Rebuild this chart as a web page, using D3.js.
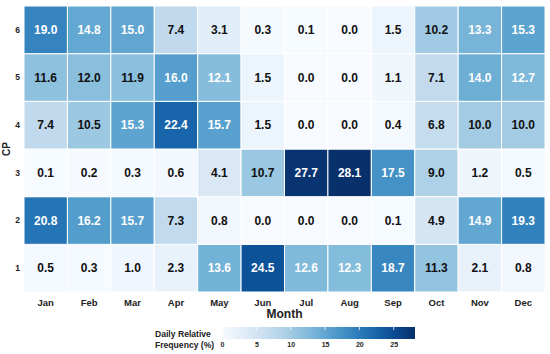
<!DOCTYPE html>
<html>
<head>
<meta charset="utf-8">
<script src="https://cdn.jsdelivr.net/npm/d3@7"></script>
<style>
  body { margin: 0; background: #fff; }
  text { font-family: "Liberation Sans", Arial, sans-serif; font-weight: bold; }
</style>
</head>
<body>
<svg width="550" height="354"></svg>
<script>
var months = ["Jan", "Feb", "Mar", "Apr", "May", "Jun", "Jul", "Aug", "Sep", "Oct", "Nov", "Dec"];
var cps = ["1", "2", "3", "4", "5", "6"];

// one array per CP, Jan..Dec
var cp1 = [0.5, 0.3, 1.0, 2.3, 13.6, 24.5, 12.6, 12.3, 18.7, 11.3, 2.1, 0.8];
var cp2 = [20.8, 16.2, 15.7, 7.3, 0.8, 0.0, 0.0, 0.0, 0.1, 4.9, 14.9, 19.3];
var cp3 = [0.1, 0.2, 0.3, 0.6, 4.1, 10.7, 27.7, 28.1, 17.5, 9.0, 1.2, 0.5];
var cp4 = [7.4, 10.5, 15.3, 22.4, 15.7, 1.5, 0.0, 0.0, 0.4, 6.8, 10.0, 10.0];
var cp5 = [11.6, 12.0, 11.9, 16.0, 12.1, 1.5, 0.0, 0.0, 1.1, 7.1, 14.0, 12.7];
var cp6 = [19.0, 14.8, 15.0, 7.4, 3.1, 0.3, 0.1, 0.0, 1.5, 10.2, 13.3, 15.3];

var legendTicks = [0, 5, 10, 15, 20, 25];

var rows = [cp1, cp2, cp3, cp4, cp5, cp6];
var cells = [];
rows.forEach(function (r, i) {
    r.forEach(function (v, j) {
        cells.push({ cp: cps[i], month: months[j], value: v });
    });
});

var svg = d3.select("svg"),
    margin = { top: 6, right: 5, bottom: 62, left: 24 },
    width = +svg.attr("width") - margin.left - margin.right,
    height = +svg.attr("height") - margin.top - margin.bottom,
    g = svg.append("g").attr("transform", "translate(" + margin.left + "," + margin.top + ")");

var x = d3.scaleBand().domain(months).range([0, width]);
var y = d3.scaleBand().domain(cps.slice().reverse()).range([0, height]);

var maxV = d3.max(cells, function (d) { return d.value; });
var color = d3.scaleSequential(d3.interpolateBlues).domain([0, maxV]);

g.selectAll(".cell")
    .data(cells)
    .enter().append("rect")
    .attr("class", "cell")
    .attr("x", function (d) { return x(d.month); })
    .attr("y", function (d) { return y(d.cp); })
    .attr("width", x.bandwidth())
    .attr("height", y.bandwidth())
    .attr("fill", function (d) { return color(d.value); })
    .attr("stroke", "#fff")
    .attr("stroke-width", 1);

g.selectAll(".lbl")
    .data(cells)
    .enter().append("text")
    .attr("class", "lbl")
    .attr("x", function (d) { return x(d.month) + x.bandwidth() / 2; })
    .attr("y", function (d) { return y(d.cp) + y.bandwidth() / 2; })
    .attr("dy", "0.36em")
    .attr("text-anchor", "middle")
    .attr("font-size", 12)
    .attr("fill", function (d) { return d.value > 12.05 ? "#fff" : "#111"; })
    .text(function (d) { return d.value.toFixed(1); });

// axes (no lines, just labels)
var xAxis = g.append("g")
    .attr("transform", "translate(0," + height + ")")
    .call(d3.axisBottom(x).tickSize(0).tickPadding(7));
xAxis.select(".domain").remove();
xAxis.selectAll("text").attr("font-size", 9.5).attr("fill", "#222");

var yAxis = g.append("g")
    .call(d3.axisLeft(y).tickSize(0).tickPadding(4));
yAxis.select(".domain").remove();
yAxis.selectAll("text").attr("font-size", 8.5).attr("fill", "#222");

g.append("text")
    .attr("x", width / 2)
    .attr("y", height + 26)
    .attr("text-anchor", "middle")
    .attr("font-size", 12)
    .attr("fill", "#222")
    .text("Month");

svg.append("text")
    .attr("transform", "translate(10," + (margin.top + height / 2) + ") rotate(-90)")
    .attr("text-anchor", "middle")
    .attr("font-size", 10)
    .attr("fill", "#222")
    .text("CP");

// legend
var legX = 222, legY = 327, legW = 193, legH = 12;
var lx = d3.scaleLinear().domain([0, maxV]).range([legX, legX + legW]);

var defs = svg.append("defs");
var grad = defs.append("linearGradient").attr("id", "legGrad");
d3.range(0, 1.01, 0.1).forEach(function (t) {
    grad.append("stop").attr("offset", t).attr("stop-color", color(t * maxV));
});

svg.append("rect")
    .attr("x", legX).attr("y", legY)
    .attr("width", legW).attr("height", legH)
    .attr("fill", "url(#legGrad)");

var legAxis = svg.append("g")
    .attr("transform", "translate(0," + (legY + legH) + ")")
    .call(d3.axisBottom(lx).tickValues(legendTicks).tickSize(0).tickPadding(3));
legAxis.select(".domain").remove();
legAxis.selectAll("text").attr("font-size", 7).attr("fill", "#222");

svg.selectAll(".legtick")
    .data(legendTicks.slice(1))
    .enter().append("line")
    .attr("x1", function (d) { return lx(d); })
    .attr("x2", function (d) { return lx(d); })
    .attr("y1", legY)
    .attr("y2", legY + 3)
    .attr("stroke", "#fff")
    .attr("stroke-width", 0.8);

var legTitle = svg.append("text")
    .attr("x", 155)
    .attr("y", 337)
    .attr("font-size", 8.6)
    .attr("fill", "#222");
legTitle.append("tspan").attr("x", 155).attr("dy", 0).text("Daily Relative");
legTitle.append("tspan").attr("x", 155).attr("dy", 10.5).text("Frequency (%)");
</script>
</body>
</html>
